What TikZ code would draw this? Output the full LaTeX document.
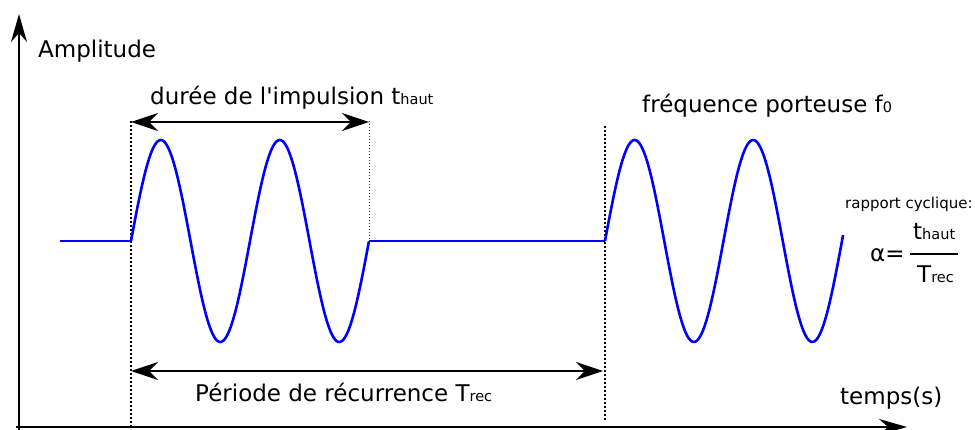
\documentclass[tikz,border=0pt]{standalone}
\usepackage{fontspec}
\setmainfont{DejaVu Sans}[Ligatures=TeXOff]
\usetikzlibrary{arrows.meta}
\newcommand{\mainsz}{\fontsize{23}{27}\selectfont}
\newcommand{\subsz}[1]{{\fontsize{14.5}{16}\selectfont #1}}
\tikzset{
  axisline/.style={line width=2pt,-{Stealth[length=28pt,width=16pt,inset=9pt]}},
  dimarrow/.style={line width=1.8pt,{Stealth[length=27pt,width=18pt,inset=9pt]}-{Stealth[length=27pt,width=18pt,inset=9pt]}},
  guideline/.style={line width=1.4pt,dash pattern=on 2pt off 2pt},
  thinguide/.style={line width=0.9pt,dash pattern=on 1.5pt off 1.5pt,black!80},
  signal/.style={blue,line width=2.6pt,line join=round},
  lbl/.style={inner sep=0pt,anchor=base west,font=\mainsz},
}
\begin{document}
\begin{tikzpicture}[x=1pt,y=-1pt]
\useasboundingbox (0,0) rectangle (975,430);
% axes
\coordinate (O) at (19,427);
\coordinate (ytip) at (19,14);
\coordinate (xtip) at (907,427);
\coordinate (ybot) at (19,430);
\coordinate (xleft) at (16,427);
\draw[axisline] (ybot) -- (ytip);
\draw[axisline] (xleft) -- (xtip);
% guide lines
\coordinate (d1t) at (131,121);
\coordinate (d1b) at (131,428);
\coordinate (d2t) at (369,121);
\coordinate (d2b) at (369,241);
\coordinate (d3t) at (605,126);
\coordinate (d3b) at (605,420);
\draw[guideline] (d1t) -- (d1b);
\draw[thinguide] (d2t) -- (d2b);
\draw[guideline] (d3t) -- (d3b);
% dimension arrows
\coordinate (a1l) at (131,122);
\coordinate (a1r) at (369,122);
\coordinate (a2l) at (131,371);
\coordinate (a2r) at (603,371);
\draw[dimarrow] (a1l) -- (a1r);
\draw[dimarrow] (a2l) -- (a2r);
% signal
\coordinate (s0) at (60,241);
\coordinate (s1) at (131,241);
\coordinate (s2) at (369,241);
\coordinate (s3) at (605,241);
\draw[signal] (s0) -- (s1);
\draw[signal] plot[domain=0:2,samples=161] ({131+\x*119},{241-101*sin(\x*360)});
\draw[signal] (s2) -- (s3);
\draw[signal] plot[domain=0:2.01,samples=161] ({605+\x*118.5},{241-101*sin(\x*360)});
% labels
\node[lbl] (amp) at (38,58) {Amplitude};
\node[lbl] (duree) at (150,105) {durée de l'impulsion t\subsz{haut}};
\node[lbl] (freq) at (642,113) {fréquence porteuse f\subsz{0}};
\node[lbl] (periode) at (195,401) {Période de récurrence T\subsz{rec}};
\node[lbl] (temps) at (840,405) {temps(s)};
\node[inner sep=0pt,anchor=base west,font=\fontsize{15}{17}\selectfont] (rapport) at (845,209) {rapport cyclique:};
\node[lbl] (alpha) at (870,262) {α=};
\node[lbl] (num) at (913,240) {t\subsz{haut}};
\node[lbl] (den) at (917,283) {T\subsz{rec}};
\coordinate (barl) at (910,254);
\coordinate (barr) at (958,254);
\draw[line width=1.2pt] (barl) -- (barr);
\end{tikzpicture}
\end{document}
